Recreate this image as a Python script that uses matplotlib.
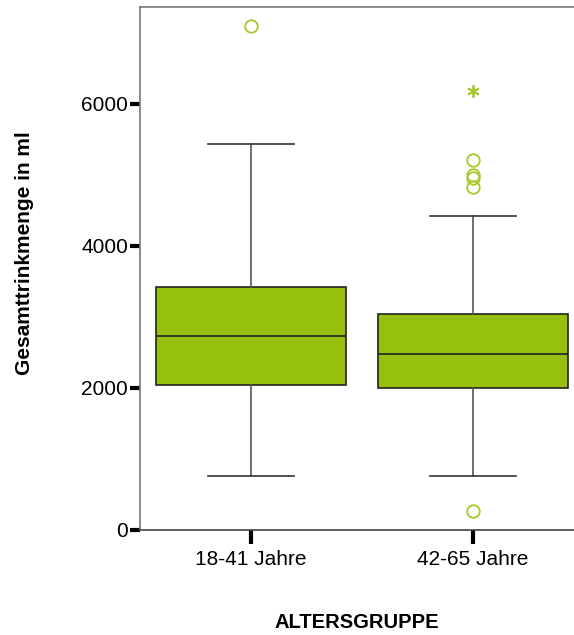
import matplotlib
matplotlib.use("Agg")
import matplotlib.pyplot as plt

plt.rcParams['font.family'] = ['Liberation Sans', 'DejaVu Sans']

categories = ["18-41 Jahre", "42-65 Jahre"]
whislo = [753, 753]
q1 = [2035, 1989]
med = [2725, 2468]
q3 = [3420, 3031]
whishi = [5430, 4420]
outliers = [[7087], [5204, 4993, 4947, 4828, 261]]
extremes = [[], [6176]]
yticks = [0, 2000, 4000, 6000]

box_color = "#97BF0D"
pt_color = "#A3C92A"

fig = plt.figure(figsize=(5.74, 6.35), dpi=100)
W, H = 574, 635
ax = fig.add_axes([140 / W, (H - 529.5) / H, 444 / W, (529.5 - 7) / H])

stats = []
for i, c in enumerate(categories):
    stats.append(dict(label=c, whislo=whislo[i], q1=q1[i], med=med[i],
                      q3=q3[i], whishi=whishi[i], fliers=outliers[i]))

ax.bxp(stats, positions=[1, 2], widths=0.856, capwidths=0.39,
       patch_artist=True,
       boxprops=dict(facecolor=box_color, edgecolor="#222222", linewidth=1.2),
       medianprops=dict(color="#222222", linewidth=1.2),
       whiskerprops=dict(color="#555555", linewidth=1.2),
       capprops=dict(color="#333333", linewidth=1.2),
       flierprops=dict(marker="o", markerfacecolor="none",
                       markeredgecolor=pt_color, markersize=9,
                       markeredgewidth=1.3, linestyle="none"))

for i, ex in enumerate(extremes):
    if ex:
        ax.plot([i + 1] * len(ex), ex, linestyle="none", marker=(6, 2, 0),
                markersize=9, markeredgecolor=pt_color, color=pt_color,
                markeredgewidth=1.3)

ax.set_xlim(0.5, 2.5)
ax.set_ylim(0, 7360)
ax.set_yticks(yticks)
ax.set_yticklabels([str(v) for v in yticks])
ax.set_xticks([1, 2])
ax.set_xticklabels(categories)
ax.tick_params(axis="y", length=7, width=3, color="black", labelsize=15, pad=1.5)
ax.tick_params(axis="x", length=10, width=3, color="black", labelsize=15, pad=5)

for s in ["left", "top", "bottom"]:
    ax.spines[s].set_color("#777777")
    ax.spines[s].set_linewidth(1.2)
ax.spines["bottom"].set_color("#444444")
ax.spines["right"].set_visible(False)

fig.text(357 / W, 1 - 622 / H, "ALTERSGRUPPE", ha="center", va="center",
         fontsize=14.5, fontweight="bold")
fig.text(25 / W, 1 - 253 / H, "Gesamttrinkmenge in ml", ha="center",
         va="center", rotation=90, fontsize=15, fontweight="bold")

fig.savefig("out.png", dpi=100)
